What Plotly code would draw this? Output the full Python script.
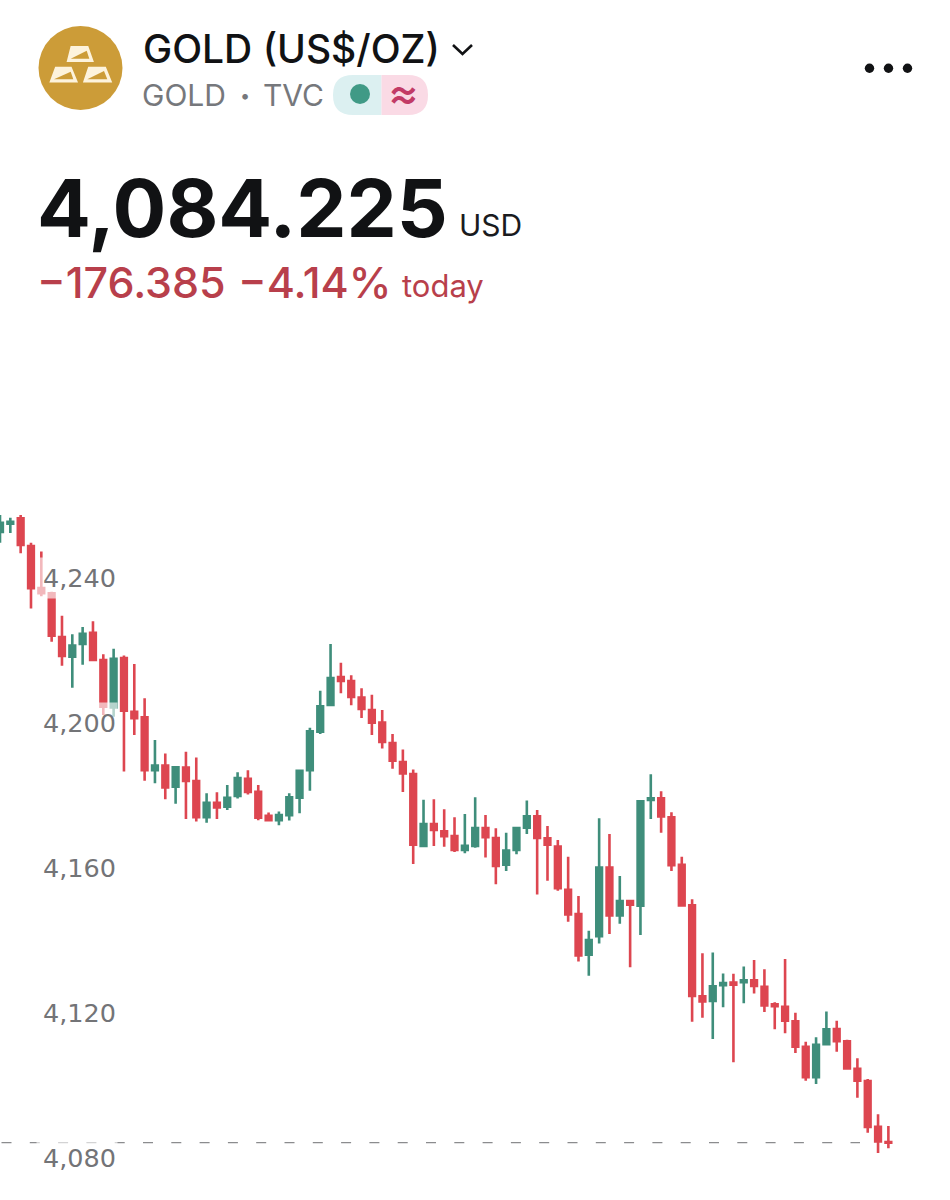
import plotly.graph_objects as go

WIDTH, HEIGHT = 950, 1200

# Quote header
NAME = "GOLD (US$/OZ)"
TICKER = "GOLD"
EXCHANGE = "TVC"
LAST_PRICE = 4084.225
CURRENCY = "USD"
CHANGE = "\u2212176.385"
CHANGE_PCT = "\u22124.14%"
CHANGE_SUFFIX = "today"

# Price axis labels
PRICE_TICKS = [4240, 4200, 4160, 4120, 4080]

# Intraday candles
opens = [
    4252.7, 4255.0, 4256.5, 4248.8, 4237.2, 4235.8, 4223.7, 4218.3, 4221.8, 4224.9,
    4217.4, 4204.3, 4217.9, 4203.1, 4201.6, 4187.0, 4188.3, 4182.4, 4187.7, 4184.0,
    4174.0, 4178.0, 4176.9, 4179.9, 4184.6, 4181.0, 4174.4, 4173.2, 4174.6, 4179.4,
    4187.0, 4197.6, 4205.0, 4212.7, 4211.6, 4207.0, 4203.6, 4200.1, 4194.5, 4189.2,
    4185.9, 4166.1, 4172.1, 4170.1, 4168.8, 4165.0, 4166.1, 4171.0, 4168.3, 4160.9,
    4165.0, 4171.1, 4174.3, 4168.2, 4165.9, 4154.0, 4147.3, 4136.1, 4141.2, 4160.1,
    4146.9, 4150.9, 4149.6, 4178.8, 4179.2, 4174.0, 4160.9, 4149.7, 4124.6, 4123.3,
    4127.7, 4128.4, 4128.5, 4129.0, 4127.2, 4122.4, 4121.7, 4117.7, 4110.7, 4102.3,
    4111.4, 4115.6, 4112.2, 4104.6, 4101.2, 4088.6, 4084.4,
]
highs = [
    4257.4, 4256.6, 4257.4, 4249.7, 4247.3, 4236.2, 4229.6, 4224.5, 4226.5, 4228.1,
    4219.0, 4220.5, 4218.6, 4216.3, 4206.8, 4195.3, 4191.6, 4188.0, 4192.1, 4190.5,
    4180.6, 4180.9, 4182.9, 4186.4, 4187.0, 4182.9, 4175.3, 4175.6, 4180.6, 4187.0,
    4198.7, 4208.9, 4221.8, 4216.6, 4213.2, 4209.6, 4207.8, 4203.6, 4197.0, 4192.7,
    4187.2, 4178.8, 4179.0, 4176.2, 4174.0, 4174.9, 4179.5, 4174.6, 4171.0, 4169.7,
    4171.1, 4178.6, 4176.0, 4171.6, 4167.7, 4163.1, 4152.3, 4142.7, 4173.7, 4169.4,
    4157.8, 4151.1, 4178.4, 4185.9, 4181.2, 4175.4, 4163.1, 4151.4, 4136.5, 4136.7,
    4130.9, 4130.8, 4132.8, 4134.6, 4132.1, 4123.0, 4134.9, 4120.1, 4112.1, 4113.3,
    4120.4, 4117.9, 4112.6, 4107.5, 4101.8, 4092.1, 4088.8,
]
lows = [
    4249.7, 4252.4, 4246.8, 4231.6, 4235.0, 4222.4, 4215.8, 4209.7, 4216.1, 4217.4,
    4202.2, 4201.7, 4186.6, 4196.7, 4184.1, 4183.4, 4179.0, 4177.7, 4173.5, 4172.8,
    4172.5, 4173.5, 4176.0, 4179.2, 4180.3, 4173.2, 4172.8, 4171.8, 4173.1, 4175.1,
    4181.3, 4197.0, 4204.7, 4208.2, 4204.9, 4201.4, 4196.7, 4193.0, 4187.4, 4181.0,
    4161.1, 4165.7, 4166.1, 4165.9, 4164.4, 4164.1, 4165.6, 4162.9, 4155.5, 4159.2,
    4163.8, 4169.4, 4152.7, 4156.5, 4153.7, 4145.2, 4134.2, 4130.3, 4139.2, 4141.8,
    4144.6, 4132.6, 4141.5, 4173.5, 4169.7, 4159.2, 4149.5, 4117.6, 4118.7, 4112.8,
    4121.6, 4106.4, 4122.7, 4125.4, 4120.3, 4115.5, 4114.4, 4109.0, 4101.3, 4100.4,
    4111.4, 4109.3, 4104.5, 4096.6, 4087.0, 4081.4, 4082.7,
]
closes = [
    4255.2, 4255.5, 4249.1, 4237.2, 4235.8, 4224.1, 4218.5, 4221.4, 4224.6, 4217.4,
    4204.5, 4217.7, 4203.4, 4201.3, 4187.0, 4188.3, 4182.2, 4187.8, 4184.0, 4174.0,
    4178.0, 4176.7, 4179.4, 4184.8, 4181.0, 4173.9, 4173.2, 4174.6, 4179.5, 4186.8,
    4197.7, 4204.6, 4212.4, 4211.6, 4207.2, 4203.9, 4200.1, 4194.8, 4189.6, 4186.1,
    4166.4, 4172.1, 4170.5, 4168.8, 4165.0, 4166.1, 4171.0, 4168.5, 4160.6, 4164.8,
    4171.0, 4174.3, 4168.3, 4166.4, 4154.4, 4147.2, 4135.9, 4140.1, 4160.1, 4146.9,
    4150.9, 4149.9, 4178.4, 4179.2, 4174.2, 4160.8, 4149.7, 4124.7, 4123.2, 4127.4,
    4128.3, 4127.8, 4129.0, 4127.5, 4122.1, 4121.9, 4117.9, 4110.7, 4102.3, 4111.2,
    4115.5, 4112.2, 4104.7, 4101.3, 4088.6, 4084.6, 4084.225,
]
bars = list(range(len(closes)))

UP = "#3f8e7b"
DOWN = "#dd4650"
GOLD = "#cc9c38"
CREAM = "#fdf3dc"
INK = "#111214"
GREY = "#76787c"
AXIS_GREY = "#737477"
LOSS = "#b83f4b"
FONT = "Inter"


def fx(px):
    return px / WIDTH


def fy(px):
    return 1 - px / HEIGHT


def path(points):
    return "M" + "L".join(f"{fx(x):.5f},{fy(y):.5f}" for x, y in points) + "Z"


def text(s, x, y, size, color, weight=400, anchor="left", font=FONT):
    return dict(
        text=s, xref="paper", yref="paper", x=fx(x), y=fy(y),
        xanchor=anchor, yanchor="middle", showarrow=False, borderpad=0,
        font=dict(family=font, size=size, color=color, weight=weight),
    )


def disc(cx, cy, r, color):
    return dict(
        type="circle", xref="paper", yref="paper", layer="above",
        x0=fx(cx - r), x1=fx(cx + r), y0=fy(cy + r), y1=fy(cy - r),
        fillcolor=color, line_width=0,
    )


def ingot(points, wedge):
    return [
        dict(type="path", xref="paper", yref="paper", layer="above", path=path(points),
             fillcolor=CREAM, line=dict(color=CREAM, width=3)),
        dict(type="path", xref="paper", yref="paper", layer="above", path=path(wedge),
             fillcolor=GOLD, line_width=0),
    ]


def half_pill(outer, color):
    # One half of the status pill, from the centre split out to a rounded end
    split, top, mid, bottom = 381.5, 75, 95, 115
    shoulder = outer + (20 if outer < split else -20)
    return dict(
        type="path", xref="paper", yref="paper", layer="above", line_width=0,
        fillcolor=color,
        path=f"M{fx(split)},{fy(top)}L{fx(shoulder)},{fy(top)}"
             f"Q{fx(outer)},{fy(top)} {fx(outer)},{fy(mid)}"
             f"Q{fx(outer)},{fy(bottom)} {fx(shoulder)},{fy(bottom)}"
             f"L{fx(split)},{fy(bottom)}Z",
    )


fig = go.Figure(
    go.Candlestick(
        x=bars, open=opens, high=highs, low=lows, close=closes,
        increasing=dict(line=dict(color=UP, width=2.6), fillcolor=UP),
        decreasing=dict(line=dict(color=DOWN, width=2.6), fillcolor=DOWN),
        whiskerwidth=0, hoverinfo="skip",
    )
)

shapes = [
    # Dashed marker at the last traded price
    dict(type="line", xref="paper", yref="y", x0=fx(1.5), x1=fx(860),
         y0=LAST_PRICE, y1=LAST_PRICE, layer="below",
         line=dict(color="#8b8c8e", width=1.2, dash="10px,18.3px")),
    # Round gold logo
    disc(80.5, 68, 42, GOLD),
    *ingot([(68.5, 60.5), (71.8, 47.5), (87.2, 47.5), (91.8, 60.5)],
           [(70.7, 58.8), (86.7, 50.7), (89.3, 58.8)]),
    *ingot([(51.5, 81), (56.2, 68.2), (70.5, 68.2), (75.8, 81)],
           [(54, 79.3), (70.7, 71.7), (73.3, 79.3)]),
    *ingot([(85, 81), (89.3, 68.2), (104.8, 68.2), (110, 81)],
           [(87.3, 79.3), (104, 71), (107.3, 79.3)]),
    # Market status pill
    half_pill(333, "#dcf0f1"),
    half_pill(428, "#fadae5"),
    disc(360, 94, 10, "#409a86"),
    # Symbol menu chevron
    dict(type="path", xref="paper", yref="paper", layer="above",
         path=f"M{fx(453)},{fy(45)}L{fx(462.5)},{fy(54)}L{fx(472)},{fy(45)}",
         line=dict(color=INK, width=2.6), fillcolor="rgba(0,0,0,0)"),
    # Overflow menu
    disc(869.5, 68.3, 4.7, INK),
    disc(888.5, 68.3, 4.7, INK),
    disc(907.5, 68.3, 4.7, INK),
]

annotations = [
    text(NAME, 141.5, 48.3, 39, INK, 500),
    text(TICKER, 141, 95, 30, GREY),
    text("\u2022", 245, 96, 18, GREY, anchor="center"),
    text(EXCHANGE, 262, 95, 30, GREY),
    text("\u2248", 403, 94.5, 33, "#c23b66", 900, anchor="center", font="Noto Sans CJK SC"),
    text(f"{LAST_PRICE:,.3f}", 36, 208, 79.8, INK, 700),
    text(CURRENCY, 458, 225, 30, "#1a1b1e"),
    text(CHANGE, 36, 281.5, 43, LOSS, 500),
    text(CHANGE_PCT, 237, 281.5, 43, LOSS, 500),
    text(CHANGE_SUFFIX, 400.5, 285, 31, LOSS),
]

# Axis labels sit over the candles on a translucent plate, so they stay readable
for tick in PRICE_TICKS:
    annotations.append(dict(
        text=f"{tick:,}", xref="paper", yref="y", x=fx(36), y=tick,
        xanchor="left", yanchor="middle", showarrow=False,
        width=78, height=38, align="right", valign="middle", borderpad=1,
        bgcolor="rgba(255,255,255,0.62)",
        font=dict(family="DejaVu Sans", size=25.5, color=AXIS_GREY),
    ))

fig.update_layout(
    width=WIDTH, height=HEIGHT, autosize=False,
    margin=dict(l=0, r=0, t=0, b=0),
    paper_bgcolor="white", plot_bgcolor="white",
    showlegend=False, boxgap=0.45, boxgroupgap=0,
    xaxis=dict(visible=False, range=[0, WIDTH / 10.33], rangeslider=dict(visible=False)),
    yaxis=dict(visible=False, range=[4068.42, 4399.45]),
    shapes=shapes, annotations=annotations,
)

fig.write_html("out.html", config=dict(displayModeBar=False))
